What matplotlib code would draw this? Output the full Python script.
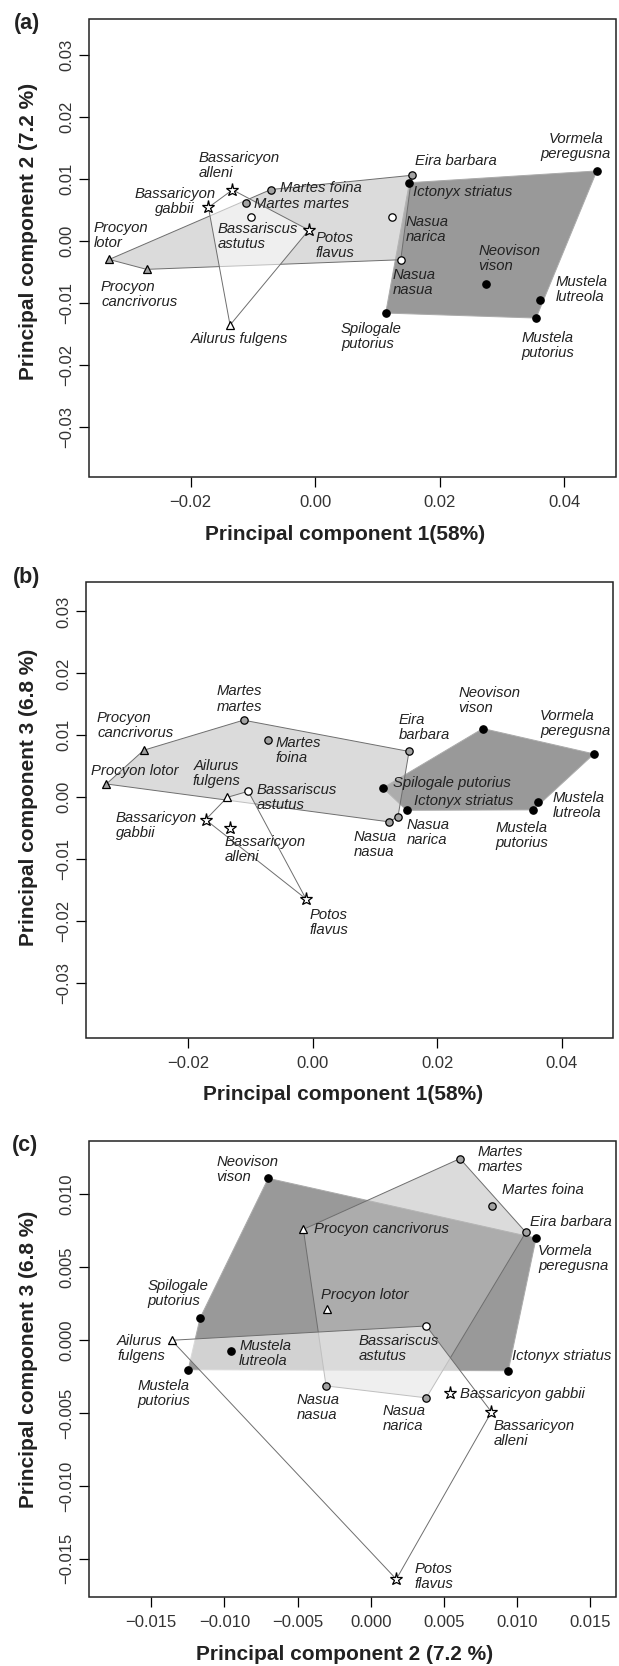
import numpy as np
import matplotlib
matplotlib.use('Agg')
import matplotlib.pyplot as plt
from matplotlib.patches import Polygon
from matplotlib.ticker import FixedLocator, FuncFormatter

plt.rcParams['font.family'] = ['Liberation Sans', 'DejaVu Sans']

# PCA scores
species = ['Procyon lotor', 'Procyon cancrivorus', 'Bassaricyon alleni', 'Bassaricyon gabbii',
           'Martes foina', 'Martes martes', 'Bassariscus astutus', 'Potos flavus',
           'Eira barbara', 'Ictonyx striatus', 'Nasua narica', 'Nasua nasua',
           'Vormela peregusna', 'Neovison vison', 'Mustela lutreola', 'Mustela putorius',
           'Spilogale putorius', 'Ailurus fulgens']
pc1 = [-0.0331, -0.0271, -0.0133, -0.01716, -0.00713, -0.01108, -0.01032, -0.00105,
       0.0155, 0.0151, 0.01226, 0.01372, 0.0452, 0.02735, 0.03615, 0.03545,
       0.0113, -0.01369]
pc2 = [-0.0030, -0.0046, 0.00825, 0.0054, 0.0083, 0.0061, 0.0038, 0.00175,
       0.0106, 0.0094, 0.0038, -0.00305, 0.0113, -0.0070, -0.00956, -0.01247,
       -0.01166, -0.0136]
pc3 = [0.00215, 0.0076, -0.00493, -0.00362, 0.0092, 0.01245, 0.00097, -0.0164,
       0.0074, -0.0021, -0.00396, -0.00314, 0.0070, 0.0111, -0.00073, -0.00203,
       0.00151, -0.00001]
group = ['grey', 'grey', 'white', 'white', 'grey', 'grey', 'white', 'white',
         'grey', 'black', 'grey', 'grey', 'black', 'black', 'black', 'black',
         'black', 'white']
shape = ['^', '^', '*', '*', 'o', 'o', 'o', '*',
         'o', 'o', 'o', 'o', 'o', 'o', 'o', 'o',
         'o', '^']

# label placement per panel: dx, dy (pixels), alignment, number of lines
labels_a = {
    'Procyon lotor': (-15.4, 23.7, 'left', 2),
    'Procyon cancrivorus': (-45.5, -25.2, 'left', 2),
    'Bassaricyon alleni': (-33.7, 24, 'left', 2),
    'Bassaricyon gabbii': (-33.6, 6.3, 'center', 2),
    'Martes foina': (9.1, 1.7, 'left', 1),
    'Martes martes': (7.9, -1, 'left', 1),
    'Bassariscus astutus': (-33.7, -19.3, 'left', 2),
    'Potos flavus': (6.7, -15.3, 'left', 2),
    'Eira barbara': (2.8, 14.7, 'left', 1),
    'Ictonyx striatus': (4, -9.7, 'left', 1),
    'Nasua narica': (13.9, -12.3, 'left', 2),
    'Nasua nasua': (-7.9, -22.5, 'left', 2),
    'Vormela peregusna': (-21, 24, 'center', 2),
    'Neovison vison': (-7.5, 25.5, 'left', 2),
    'Mustela lutreola': (15, 10.7, 'left', 2),
    'Mustela putorius': (-14.3, -27.8, 'left', 2),
    'Spilogale putorius': (-44.7, -23.2, 'left', 2),
    'Ailurus fulgens': (-39.2, -13.7, 'left', 1),
}
labels_b = {
    'Martes martes': (-26.5, 21.2, 'left', 2),
    'Martes foina': (7.5, -10.3, 'left', 2),
    'Procyon cancrivorus': (-46.7, 24.5, 'left', 2),
    'Procyon lotor': (-15, 13.3, 'left', 1),
    'Ailurus fulgens': (-11.1, 23.7, 'center', 2),
    'Bassariscus astutus': (8.7, -6.5, 'left', 2),
    'Eira barbara': (-10.3, 23.8, 'left', 2),
    'Neovison vison': (-24.5, 27.8, 'left', 2),
    'Vormela peregusna': (-53.8, 30, 'left', 2),
    'Spilogale putorius': (10.3, 5, 'left', 1),
    'Ictonyx striatus': (7.5, 9, 'left', 1),
    'Mustela lutreola': (15, -4, 'left', 2),
    'Mustela putorius': (-38, -25.2, 'left', 2),
    'Nasua narica': (17.8, -10.5, 'left', 2),
    'Nasua nasua': (-44.3, -28, 'left', 2),
    'Bassaricyon gabbii': (-89.9, -5.8, 'left', 2),
    'Bassaricyon alleni': (-4.8, -21.3, 'left', 2),
    'Potos flavus': (3.2, -24, 'left', 2),
}
labels_c = {
    'Neovison vison': (-51.9, 9.2, 'left', 2),
    'Martes martes': (17.8, -1.2, 'left', 2),
    'Martes foina': (9.9, 15.7, 'left', 1),
    'Eira barbara': (4, 10.3, 'left', 1),
    'Vormela peregusna': (2, -20, 'left', 2),
    'Procyon cancrivorus': (10.7, 0, 'left', 1),
    'Procyon lotor': (-5.9, 13.3, 'left', 1),
    'Spilogale putorius': (-52.3, 24.7, 'left', 2),
    'Ailurus fulgens': (-54.6, -8.5, 'left', 2),
    'Mustela lutreola': (8.3, -2.8, 'left', 2),
    'Bassariscus astutus': (-67.3, -22.7, 'left', 2),
    'Ictonyx striatus': (3.6, 14.3, 'left', 1),
    'Mustela putorius': (-51.1, -24.2, 'left', 2),
    'Nasua nasua': (-29.7, -21.8, 'left', 2),
    'Nasua narica': (-43.5, -20.8, 'left', 2),
    'Bassaricyon gabbii': (9.9, -0.7, 'left', 1),
    'Bassaricyon alleni': (2, -21.5, 'left', 2),
    'Potos flavus': (17.8, 2.8, 'left', 2),
}

fill = {'black': 'black', 'grey': '#a3a3a3', 'white': 'white'}
msize = {'o': 5.3, '^': 6.0, '*': 9.5}


def hull(pts):
    pts = sorted(map(tuple, pts))
    def cross(o, a, b):
        return (a[0]-o[0])*(b[1]-o[1]) - (a[1]-o[1])*(b[0]-o[0])
    lower = []
    for p in pts:
        while len(lower) >= 2 and cross(lower[-2], lower[-1], p) <= 0:
            lower.pop()
        lower.append(p)
    upper = []
    for p in reversed(pts):
        while len(upper) >= 2 and cross(upper[-2], upper[-1], p) <= 0:
            upper.pop()
        upper.append(p)
    return np.array(lower[:-1] + upper[:-1])


def panel(ax, xs, ys, labels, xlim, ylim, ticks_x, ticks_y, fmt, white_fill=()):
    xs = np.array(xs)
    ys = np.array(ys)
    g = np.array(group)
    styles = [('black', '#999999', '#ababab'),
              ('grey', (0.745, 0.745, 0.745, 0.54), '#6e6e6e'),
              ('white', (1, 1, 1, 0.56), '#6e6e6e')]
    for k, (gname, fc, ec) in enumerate(styles):
        m = g == gname
        h = hull(np.column_stack([xs[m], ys[m]]))
        ax.add_patch(Polygon(h, closed=True, facecolor=fc, edgecolor=ec,
                             linewidth=0.7, zorder=1 + k))
    for i, sp in enumerate(species):
        fc = fill[group[i]]
        if sp in white_fill:
            fc = 'white'
        ax.plot(xs[i], ys[i], marker=shape[i], ms=msize[shape[i]], mfc=fc,
                mec='black', mew=0.9, ls='none', zorder=6)
        dx, dy, ha, nl = labels[sp]
        txt = sp.replace(' ', '\n') if nl == 2 else sp
        ax.annotate(txt, (xs[i], ys[i]), xytext=(dx, dy), textcoords='offset pixels',
                    ha=ha, va='center', multialignment=ha, style='italic',
                    fontsize=10.7, color='#222222', linespacing=1.1, zorder=7)
    ax.set_xlim(xlim)
    ax.set_ylim(ylim)
    f = FuncFormatter(lambda v, p: (fmt % v).replace('-', '\u2212') if abs(v) > 1e-9 else fmt % 0)
    ax.xaxis.set_major_locator(FixedLocator(ticks_x))
    ax.yaxis.set_major_locator(FixedLocator(ticks_y))
    ax.xaxis.set_major_formatter(f)
    ax.yaxis.set_major_formatter(f)
    ax.tick_params(axis='both', length=7.4, width=0.9, labelsize=12, labelcolor='#333333')
    ax.tick_params(axis='x', pad=5.5)
    ax.tick_params(axis='y', pad=3.3)
    for lab in ax.get_yticklabels():
        lab.set_rotation(90)
        lab.set_va('center')
    ax.spines['top'].set_visible(False)
    ax.spines['right'].set_visible(False)
    ax.spines['left'].set_bounds(ticks_y[0], ticks_y[-1])
    ax.spines['bottom'].set_bounds(ticks_x[0], ticks_x[-1])
    ax.spines['left'].set_visible(False)
    ax.spines['bottom'].set_visible(False)
    frame = plt.Rectangle((0, 0), 1, 1, transform=ax.transAxes, fill=False,
                          lw=1.1, ec='#222222', zorder=10, clip_on=False)
    ax.add_patch(frame)


W, H = 619, 1666
fig = plt.figure(figsize=(W / 100, H / 100), dpi=100)

ax_a = fig.add_axes([88.8 / W, 1 - 476.7 / H, 527.2 / W, 457.4 / H])
ax_b = fig.add_axes([86.0 / W, 1 - 1038.3 / H, 527.2 / W, 456.0 / H])
ax_c = fig.add_axes([88.8 / W, 1 - 1596.7 / H, 527.2 / W, 456.0 / H])

t2 = [-0.03, -0.02, -0.01, 0.0, 0.01, 0.02, 0.03]
panel(ax_a, pc1, pc2, labels_a, (-0.03637, 0.04828), (-0.0381, 0.0358),
      [-0.02, 0.0, 0.02, 0.04], t2, '%.2f',
      white_fill=('Nasua narica', 'Nasua nasua'))
panel(ax_b, pc1, pc3, labels_b, (-0.03637, 0.04828), (-0.0389, 0.0347),
      [-0.02, 0.0, 0.02, 0.04], t2, '%.2f')
panel(ax_c, pc2, pc3, labels_c, (-0.01926, 0.01676), (-0.0176, 0.01368),
      [-0.015, -0.01, -0.005, 0.0, 0.005, 0.01, 0.015],
      [-0.015, -0.01, -0.005, 0.0, 0.005, 0.01], '%.3f',
      white_fill=('Procyon lotor', 'Procyon cancrivorus'))

lab_kw = dict(fontsize=15, fontweight='bold', color='#222222', ha='center', va='center')
ax_a.text(0.487, -0.127, 'Principal component 1(58%)', transform=ax_a.transAxes, **lab_kw)
ax_a.text(-0.114, 0.536, 'Principal component 2 (7.2 %)', transform=ax_a.transAxes,
          rotation=90, **lab_kw)
ax_b.text(0.487, -0.124, 'Principal component 1(58%)', transform=ax_b.transAxes, **lab_kw)
ax_b.text(-0.1085, 0.529, 'Principal component 3 (6.8 %)', transform=ax_b.transAxes,
          rotation=90, **lab_kw)
ax_c.text(0.486, -0.126, 'Principal component 2 (7.2 %)', transform=ax_c.transAxes, **lab_kw)
ax_c.text(-0.114, 0.52, 'Principal component 3 (6.8 %)', transform=ax_c.transAxes,
          rotation=90, **lab_kw)

for tag, (px, py) in zip(['(a)', '(b)', '(c)'], [(26.8, 23.3), (26.8, 577.7), (24.8, 1146)]):
    fig.text(px / W, 1 - py / H, tag, fontsize=15.5, fontweight='bold',
             color='#222222', ha='center', va='center')

fig.savefig('out.png', dpi=100)
